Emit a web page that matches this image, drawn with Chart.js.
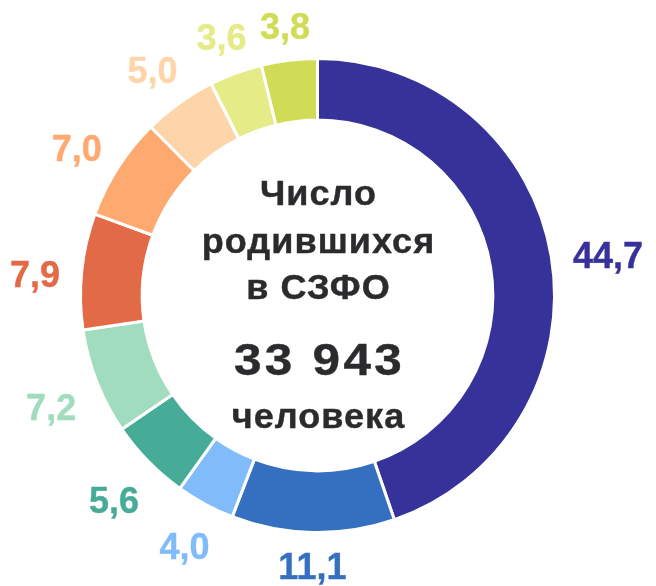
<!DOCTYPE html>
<html lang="ru">
<head>
<meta charset="utf-8">
<script src="https://cdn.jsdelivr.net/npm/chart.js@4"></script>
<style>
  html, body { margin: 0; padding: 0; background: #fff; }
  .wrap { width: 656px; height: 586px; position: relative; }
</style>
</head>
<body>
<div class="wrap"><canvas id="births"></canvas></div>
<script>
const categories = ['Группа 1', 'Группа 2', 'Группа 3', 'Группа 4', 'Группа 5',
                    'Группа 6', 'Группа 7', 'Группа 8', 'Группа 9', 'Группа 10'];
const shares = [44.7, 11.1, 4.0, 5.6, 7.2, 7.9, 7.0, 5.0, 3.6, 3.8];
const colors = ['#37329a', '#3570c0', '#80bbfa', '#46ab97', '#a2dcbf',
                '#e26a47', '#fea970', '#fed5a9', '#e5eb86', '#d0dc55'];
const centerTitle = ['Число', 'родившихся', 'в СЗФО'];
const centerTotal = '33 943';
const centerUnit = 'человека';

const fmt = v => v.toFixed(1).replace('.', ',');

// draw text a bit wider and heavier than the plain bold face
function wideText(ctx, txt, x, y, sx, stroke) {
    ctx.save();
    ctx.translate(x, y);
    ctx.scale(sx, 1);
    ctx.fillText(txt, 0, 0);
    if (stroke) {
        ctx.lineWidth = stroke;
        ctx.strokeStyle = ctx.fillStyle;
        ctx.lineJoin = 'round';
        ctx.strokeText(txt, 0, 0);
    }
    ctx.restore();
}

// labels outside the ring: box centre on the slice's mid angle,
// pushed out until the nearest box corner sits at a fixed gap from the ring
const outerLabels = {
    id: 'outerLabels',
    afterDatasetsDraw(chart) {
        const ctx = chart.ctx;
        const meta = chart.getDatasetMeta(0);
        ctx.save();
        ctx.font = 'bold 36px "Liberation Sans", Arial, sans-serif';
        ctx.textAlign = 'center';
        ctx.textBaseline = 'alphabetic';
        const capH = 25.8;
        meta.data.forEach((arc, i) => {
            const p = arc.getProps(['x', 'y', 'startAngle', 'endAngle', 'outerRadius'], true);
            const mid = (p.startAngle + p.endAngle) / 2;
            const gap = p.outerRadius + 21;
            const txt = fmt(shares[i]);
            const a = ctx.measureText(txt).width / 2;
            const b = capH / 2;
            const ux = Math.cos(mid), uy = Math.sin(mid);
            let lo = 0, hi = gap + 200;
            for (let k = 0; k < 40; k++) {
                const d = (lo + hi) / 2;
                const nx = Math.max(Math.abs(ux * d) - a, 0);
                const ny = Math.max(Math.abs(uy * d) - b, 0);
                if (Math.hypot(nx, ny) < gap) lo = d; else hi = d;
            }
            const cx = p.x + ux * lo;
            const cy = p.y + uy * lo + 8 * Math.abs(ux);
            ctx.fillStyle = colors[i];
            wideText(ctx, txt, cx, cy + b, 1, 0.4);
        });
        ctx.restore();
    }
};

const centerText = {
    id: 'centerText',
    afterDraw(chart) {
        const ctx = chart.ctx;
        const arc = chart.getDatasetMeta(0).data[0];
        const x = arc.x + 1, y = arc.y;
        ctx.save();
        ctx.fillStyle = '#2b2b2e';
        ctx.textAlign = 'center';
        ctx.textBaseline = 'alphabetic';
        ctx.font = 'bold 35px "Liberation Sans", Arial, sans-serif';
        ctx.letterSpacing = '1px';
        wideText(ctx, centerTitle[0], x, y - 91, 1.03, 0.4);
        wideText(ctx, centerTitle[1], x, y - 43, 1.03, 0.4);
        wideText(ctx, centerTitle[2], x, y + 3, 1.03, 0.4);
        wideText(ctx, centerUnit, x, y + 132, 1.03, 0.4);
        ctx.font = 'bold 45px "Liberation Sans", Arial, sans-serif';
        ctx.letterSpacing = '3px';
        wideText(ctx, centerTotal, x + 1, y + 79, 1.1, 0.4);
        ctx.restore();
    }
};

new Chart(document.getElementById('births'), {
    type: 'doughnut',
    data: {
        labels: categories,
        datasets: [{
            data: shares,
            backgroundColor: colors,
            borderColor: '#ffffff',
            borderWidth: 3,
        }]
    },
    options: {
        responsive: true,
        maintainAspectRatio: false,
        animation: false,
        cutout: '74%',
        layout: {
            padding: { top: 57, bottom: 52, left: 79, right: 100 }
        },
        plugins: {
            legend: { display: false },
            tooltip: { enabled: false },
            title: { display: false }
        }
    },
    plugins: [outerLabels, centerText]
});
</script>
</body>
</html>
